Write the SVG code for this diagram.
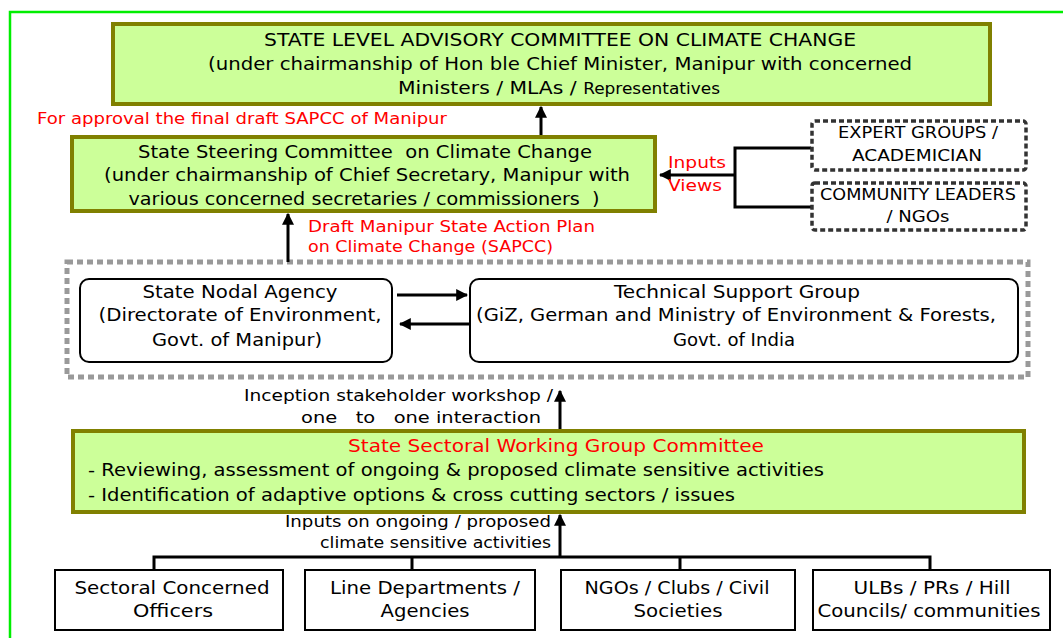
<svg xmlns="http://www.w3.org/2000/svg" width="1063" height="638" viewBox="0 0 1063 638">
<style>
.t{font-family:"DejaVu Sans","Liberation Sans",sans-serif;fill:#000;white-space:pre}
.r{fill:#ff0000}
.c{text-anchor:middle}
.g{fill:#ccff99;stroke:#808000;stroke-width:4}
.w{fill:#fff;stroke:#000;stroke-width:2}
.d{fill:#fff;stroke:#333;stroke-width:3.5;stroke-dasharray:5 3}
.ln{fill:none;stroke:#000;stroke-width:3}
</style>
<defs>
<marker id="ah" viewBox="0 0 10 10" refX="9" refY="5" markerWidth="4" markerHeight="4" orient="auto" markerUnits="strokeWidth"><path d="M0,0 L10,5 L0,10 z" fill="#000"/></marker>
</defs>
<rect x="10" y="12" width="1070" height="640" fill="#fff" stroke="#00ee00" stroke-width="2.5"/>
<rect x="67" y="262" width="961" height="115" fill="none" stroke="#999" stroke-width="5" stroke-dasharray="6 4"/>
<g id="connectors">
<line class="ln" x1="541" y1="137" x2="541" y2="107" marker-end="url(#ah)"/>
<polyline class="ln" points="811,148 735,148 735,207 811,207"/>
<line class="ln" x1="735" y1="175" x2="660" y2="175" marker-end="url(#ah)"/>
<line class="ln" x1="288" y1="262" x2="288" y2="214" marker-end="url(#ah)"/>
<line class="ln" x1="397" y1="295" x2="467" y2="295" marker-end="url(#ah)"/>
<line class="ln" x1="472" y1="324" x2="400" y2="324" marker-end="url(#ah)"/>
<line class="ln" x1="560" y1="430" x2="560" y2="391" marker-end="url(#ah)"/>
<line class="ln" x1="560" y1="557" x2="560" y2="515" marker-end="url(#ah)"/>
<polyline class="ln" points="154,570 154,557 930,557 930,570"/>
<line class="ln" x1="412" y1="557" x2="412" y2="570"/>
<line class="ln" x1="680" y1="557" x2="680" y2="570"/>
</g>
<g id="advisory">
<rect class="g" x="113" y="24" width="877" height="80"/>
<text class="t c" x="560" y="46" font-size="18" textLength="592" lengthAdjust="spacingAndGlyphs">STATE LEVEL ADVISORY COMMITTEE ON CLIMATE CHANGE</text>
<text class="t c" x="560" y="70" font-size="18" textLength="704" lengthAdjust="spacingAndGlyphs">(under chairmanship of Hon ble Chief Minister, Manipur with concerned</text>
<text class="t" x="398" y="94" font-size="18" textLength="322" lengthAdjust="spacingAndGlyphs">Ministers / MLAs / <tspan font-size="15">Representatives</tspan></text>
</g>
<text class="t r" x="37" y="124" font-size="16" textLength="410" lengthAdjust="spacingAndGlyphs">For approval the final draft SAPCC of Manipur</text>
<g id="steering">
<rect class="g" x="72" y="137" width="583" height="74"/>
<text class="t c" x="365" y="158" font-size="17" textLength="454" lengthAdjust="spacingAndGlyphs">State Steering Committee  on Climate Change</text>
<text class="t c" x="367" y="181" font-size="17" textLength="526" lengthAdjust="spacingAndGlyphs">(under chairmanship of Chief Secretary, Manipur with</text>
<text class="t c" x="364" y="205" font-size="17" textLength="471" lengthAdjust="spacingAndGlyphs">various concerned secretaries / commissioners  )</text>
</g>
<text class="t r" x="668" y="168" font-size="16" textLength="58" lengthAdjust="spacingAndGlyphs">Inputs</text>
<text class="t r" x="668" y="191" font-size="16" textLength="54" lengthAdjust="spacingAndGlyphs">Views</text>
<g id="expert">
<rect class="d" x="812" y="121" width="214" height="49" rx="3"/>
<text class="t c" x="918" y="138" font-size="15" textLength="160" lengthAdjust="spacingAndGlyphs">EXPERT GROUPS /</text>
<text class="t c" x="917" y="161" font-size="15" textLength="130" lengthAdjust="spacingAndGlyphs">ACADEMICIAN</text>
</g>
<g id="community">
<rect class="d" x="812" y="183" width="214" height="47" rx="3"/>
<text class="t c" x="918" y="200" font-size="15" textLength="196" lengthAdjust="spacingAndGlyphs">COMMUNITY LEADERS</text>
<text class="t c" x="918" y="222" font-size="15" textLength="63" lengthAdjust="spacingAndGlyphs">/ NGOs</text>
</g>
<text class="t r" x="308" y="232" font-size="16" textLength="287" lengthAdjust="spacingAndGlyphs">Draft Manipur State Action Plan</text>
<text class="t r" x="308" y="252" font-size="16" textLength="245" lengthAdjust="spacingAndGlyphs">on Climate Change (SAPCC)</text>
<g id="nodal">
<rect class="w" x="80" y="279" width="312" height="83" rx="9"/>
<text class="t c" x="240" y="298" font-size="17" textLength="195" lengthAdjust="spacingAndGlyphs">State Nodal Agency</text>
<text class="t c" x="240" y="321" font-size="17" textLength="283" lengthAdjust="spacingAndGlyphs">(Directorate of Environment,</text>
<text class="t c" x="237" y="346" font-size="17" textLength="170" lengthAdjust="spacingAndGlyphs">Govt. of Manipur)</text>
</g>
<g id="technical">
<rect class="w" x="470" y="279" width="548" height="83" rx="9"/>
<text class="t c" x="737" y="298" font-size="17" textLength="246" lengthAdjust="spacingAndGlyphs">Technical Support Group</text>
<text class="t c" x="736" y="321" font-size="17" textLength="520" lengthAdjust="spacingAndGlyphs">(GiZ, German and Ministry of Environment &amp; Forests,</text>
<text class="t c" x="734" y="346" font-size="17" textLength="122" lengthAdjust="spacingAndGlyphs">Govt. of India</text>
</g>
<text class="t" x="244" y="401" font-size="15" textLength="309" lengthAdjust="spacingAndGlyphs">Inception stakeholder workshop /</text>
<text class="t" x="301" y="423" font-size="15" textLength="240" lengthAdjust="spacingAndGlyphs" xml:space="preserve">one   to   one interaction</text>
<g id="sectoral">
<rect class="g" x="73" y="431" width="951" height="81"/>
<text class="t r" x="348" y="452" font-size="17" textLength="416" lengthAdjust="spacingAndGlyphs">State Sectoral Working Group Committee</text>
<text class="t" x="88" y="476" font-size="17" textLength="736" lengthAdjust="spacingAndGlyphs">- Reviewing, assessment of ongoing &amp; proposed climate sensitive activities</text>
<text class="t" x="88" y="501" font-size="17" textLength="647" lengthAdjust="spacingAndGlyphs">- Identification of adaptive options &amp; cross cutting sectors / issues</text>
</g>
<text class="t" x="285" y="527" font-size="15" textLength="266" lengthAdjust="spacingAndGlyphs">Inputs on ongoing / proposed</text>
<text class="t" x="320" y="548" font-size="15" textLength="231" lengthAdjust="spacingAndGlyphs">climate sensitive activities</text>
<g id="officers">
<rect class="w" x="55" y="570" width="228" height="60"/>
<text class="t c" x="172" y="594" font-size="17" textLength="195" lengthAdjust="spacingAndGlyphs">Sectoral Concerned</text>
<text class="t c" x="173" y="617" font-size="17" textLength="80" lengthAdjust="spacingAndGlyphs">Officers</text>
</g>
<g id="linedept">
<rect class="w" x="305" y="570" width="230" height="60"/>
<text class="t c" x="425" y="594" font-size="17" textLength="190" lengthAdjust="spacingAndGlyphs">Line Departments /</text>
<text class="t c" x="425" y="617" font-size="17" textLength="89" lengthAdjust="spacingAndGlyphs">Agencies</text>
</g>
<g id="ngos">
<rect class="w" x="561" y="570" width="234" height="60"/>
<text class="t c" x="677" y="594" font-size="17" textLength="185" lengthAdjust="spacingAndGlyphs">NGOs / Clubs / Civil</text>
<text class="t c" x="678" y="617" font-size="17" textLength="89" lengthAdjust="spacingAndGlyphs">Societies</text>
</g>
<g id="ulbs">
<rect class="w" x="813" y="570" width="237" height="60"/>
<text class="t c" x="932" y="594" font-size="17" textLength="157" lengthAdjust="spacingAndGlyphs">ULBs / PRs / Hill</text>
<text class="t c" x="929" y="617" font-size="17" textLength="223" lengthAdjust="spacingAndGlyphs">Councils/ communities</text>
</g>
</svg>
